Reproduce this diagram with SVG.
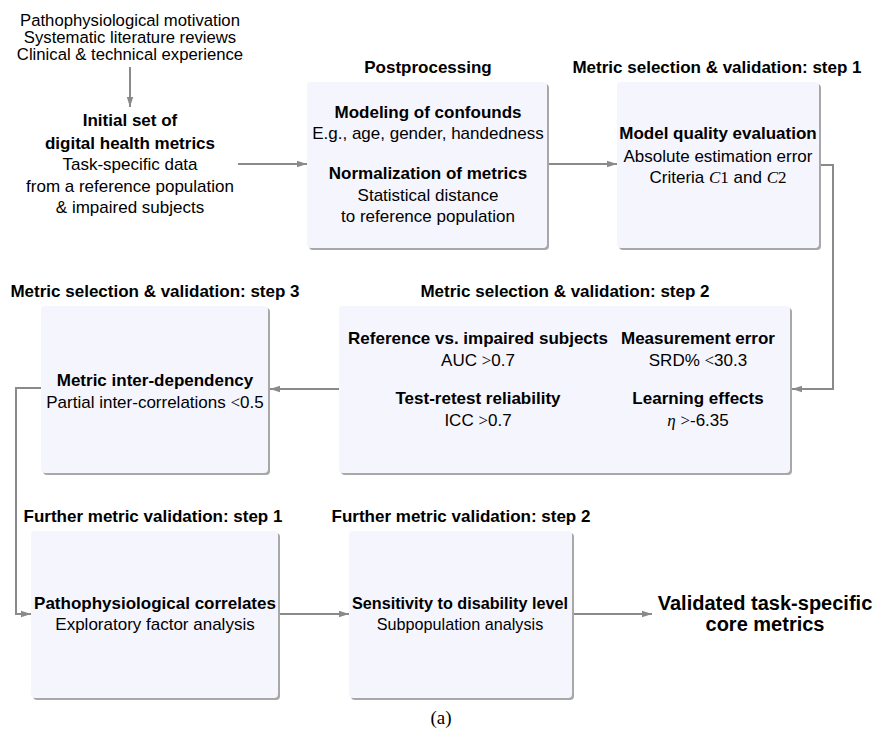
<svg xmlns="http://www.w3.org/2000/svg" width="877" height="731" viewBox="0 0 877 731">
<style>
text{font-family:"Liberation Sans",Arial,Helvetica,sans-serif;font-size:17px;fill:#000;text-anchor:middle}
.b{font-weight:bold}
.m{font-family:"Liberation Serif","Times New Roman",serif}
.i{font-family:"Liberation Serif","Times New Roman",serif;font-style:italic}
.box{fill:#f5f5fe}
.sh{fill:#a8a8a8}
.c{fill:none;stroke:#8a8a8a;stroke-width:2}
</style>
<defs>
<marker id="ah" markerUnits="userSpaceOnUse" markerWidth="10" markerHeight="8" refX="10" refY="4" orient="auto">
<path d="M0,0.8 L10,4 L0,7.2 z" fill="#8a8a8a"/>
</marker>
</defs>
<rect width="877" height="731" fill="#fff"/>

<g id="connectors">
<line class="c" x1="130" y1="67" x2="130" y2="107" marker-end="url(#ah)"/>
<line class="c" x1="238" y1="164" x2="307" y2="164" marker-end="url(#ah)"/>
<line class="c" x1="547" y1="164" x2="617" y2="164" marker-end="url(#ah)"/>
<polyline class="c" points="819,165 833,165 833,389 792,389" marker-end="url(#ah)"/>
<line class="c" x1="339" y1="389" x2="270" y2="389" marker-end="url(#ah)"/>
<polyline class="c" points="41,388 16,388 16,614 31,614" marker-end="url(#ah)"/>
<line class="c" x1="278" y1="614" x2="349" y2="614" marker-end="url(#ah)"/>
<line class="c" x1="572" y1="614" x2="652" y2="614" marker-end="url(#ah)"/>
</g>

<g id="sources">
<text x="130" y="26" style="font-size:16.7px">Pathophysiological motivation</text>
<text x="130" y="43" style="font-size:16.7px">Systematic literature reviews</text>
<text x="130" y="60" style="font-size:16.7px">Clinical &amp; technical experience</text>
</g>

<g id="initial">
<text x="130" y="126" class="b">Initial set of</text>
<text x="130" y="149" class="b">digital health metrics</text>
<text x="130" y="170">Task-specific data</text>
<text x="130" y="192">from a reference population</text>
<text x="130" y="213">&amp; impaired subjects</text>
</g>

<g id="postprocessing">
<text x="428" y="73" class="b">Postprocessing</text>
<rect class="sh" x="309" y="84" width="240" height="166" rx="4"/>
<rect class="box" x="307" y="82" width="240" height="166" rx="4"/>
<text x="428" y="118" class="b">Modeling of confounds</text>
<text x="428" y="139">E.g., age, gender, handedness</text>
<text x="428" y="179" class="b">Normalization of metrics</text>
<text x="428" y="201">Statistical distance</text>
<text x="428" y="222">to reference population</text>
</g>

<g id="step1">
<text x="717" y="73" class="b">Metric selection &amp; validation: step 1</text>
<rect class="sh" x="619" y="84" width="202" height="166" rx="4"/>
<rect class="box" x="617" y="82" width="202" height="166" rx="4"/>
<text x="718" y="139" class="b">Model quality evaluation</text>
<text x="718" y="162">Absolute estimation error</text>
<text x="718" y="183">Criteria <tspan class="i">C</tspan><tspan class="m">1</tspan> and <tspan class="i">C</tspan><tspan class="m">2</tspan></text>
</g>

<g id="step2">
<text x="565" y="297" class="b">Metric selection &amp; validation: step 2</text>
<rect class="sh" x="341" y="308" width="451" height="167" rx="4"/>
<rect class="box" x="339" y="306" width="451" height="167" rx="4"/>
<text x="478" y="344" class="b">Reference vs. impaired subjects</text>
<text x="478" y="366">AUC <tspan class="m">&gt;</tspan>0.7</text>
<text x="698" y="344" class="b">Measurement error</text>
<text x="698" y="366">SRD% <tspan class="m">&lt;</tspan>30.3</text>
<text x="478" y="404" class="b">Test-retest reliability</text>
<text x="478" y="426">ICC <tspan class="m">&gt;</tspan>0.7</text>
<text x="698" y="404" class="b">Learning effects</text>
<text x="698" y="426"><tspan class="i">η</tspan> <tspan class="m">&gt;</tspan>-6.35</text>
</g>

<g id="step3">
<text x="155" y="297" class="b">Metric selection &amp; validation: step 3</text>
<rect class="sh" x="43" y="308" width="227" height="167" rx="4"/>
<rect class="box" x="41" y="306" width="227" height="167" rx="4"/>
<text x="155" y="386" class="b">Metric inter-dependency</text>
<text x="155" y="408">Partial inter-correlations <tspan class="m">&lt;</tspan>0.5</text>
</g>

<g id="further1">
<text x="153" y="522" class="b">Further metric validation: step 1</text>
<rect class="sh" x="33" y="533" width="247" height="167" rx="4"/>
<rect class="box" x="31" y="531" width="247" height="167" rx="4"/>
<text x="155" y="609" class="b">Pathophysiological correlates</text>
<text x="155" y="630">Exploratory factor analysis</text>
</g>

<g id="further2">
<text x="461" y="522" class="b">Further metric validation: step 2</text>
<rect class="sh" x="351" y="533" width="223" height="167" rx="4"/>
<rect class="box" x="349" y="531" width="223" height="167" rx="4"/>
<text x="460" y="609" class="b" style="font-size:16.2px">Sensitivity to disability level</text>
<text x="460" y="630" style="font-size:16.2px">Subpopulation analysis</text>
</g>

<g id="result">
<text x="765" y="610" class="b" style="font-size:20px">Validated task-specific</text>
<text x="765" y="631" class="b" style="font-size:20px">core metrics</text>
</g>

<text x="441" y="724" class="m" style="font-size:19px">(a)</text>
</svg>
